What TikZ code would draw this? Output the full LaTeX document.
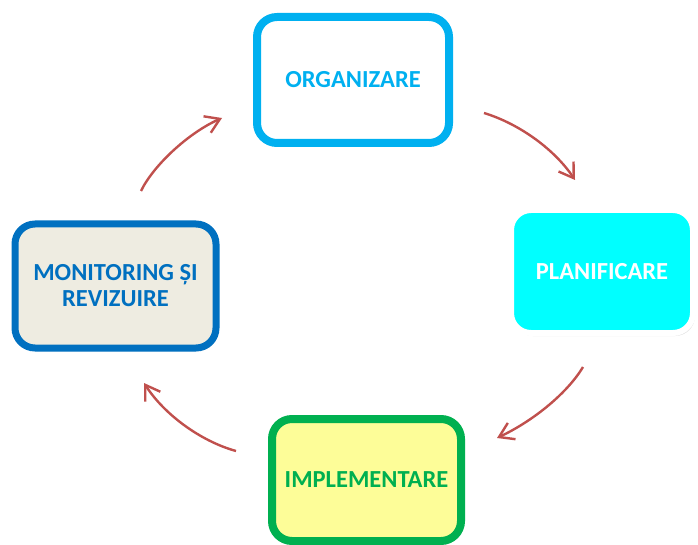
\documentclass[tikz,border=0pt]{standalone}
\usepackage{fontspec}
\setmainfont{Carlito}
\usepackage{tikz}
\usetikzlibrary{arrows.meta,shadows}

\definecolor{orgblue}{HTML}{00B0F0}
\definecolor{monblue}{HTML}{0070C0}
\definecolor{impgreen}{HTML}{00B050}
\definecolor{impyellow}{HTML}{FDFD98}
\definecolor{moncream}{HTML}{EEECE1}
\definecolor{plancyan}{HTML}{00FFFF}
\definecolor{arrred}{HTML}{C0504D}

\begin{document}
\begin{tikzpicture}[x=1pt, y=-1pt]
	\tikzstyle{stage} = [rectangle, rounded corners=20pt, align=center, font=\fontsize{24.5}{26}\selectfont\bfseries, drop shadow={opacity=0.25, shadow xshift=2pt, shadow yshift=-3pt}]
	\tikzstyle{cyclearrow} = [draw=arrred, line width=2.4pt, -{Straight Barb[length=14pt, width=18pt]}]
	\useasboundingbox (0,0) rectangle (698,545);
	\node [stage, draw=orgblue, fill=white, line width=8pt, text=orgblue, minimum width=192pt, minimum height=126pt] (org) at (353, 80) {ORGANIZARE};
	\node [stage, draw=white, fill=plancyan, line width=6pt, text=white, minimum width=182pt, minimum height=123pt] (plan) at (602, 271.5) {PLANIFICARE};
	\node [stage, draw=impgreen, fill=impyellow, line width=8pt, text=impgreen, minimum width=189pt, minimum height=122pt] (impl) at (366.5, 480) {IMPLEMENTARE};
	\node [stage, draw=monblue, fill=moncream, line width=7pt, text=monblue, minimum width=201pt, minimum height=124pt] (mon) at (115.5, 286) {MONITORING ȘI\\REVIZUIRE};
	\coordinate (orgout) at (484, 113);
	\coordinate (planin) at (575, 180);
	\coordinate (planout) at (583, 367);
	\coordinate (implin) at (497, 438);
	\coordinate (implout) at (236, 451);
	\coordinate (monin) at (144, 383);
	\coordinate (monout) at (141, 191);
	\coordinate (orgin) at (222, 118);
	\draw [cyclearrow] (orgout) .. controls (520, 124) and (555, 150) .. (planin);
	\draw [cyclearrow] (planout) .. controls (568, 392) and (535, 420) .. (implin);
	\draw [cyclearrow] (implout) .. controls (200, 441) and (164, 414) .. (monin);
	\draw [cyclearrow] (monout) .. controls (153, 166) and (188, 133) .. (orgin);
\end{tikzpicture}
\end{document}
